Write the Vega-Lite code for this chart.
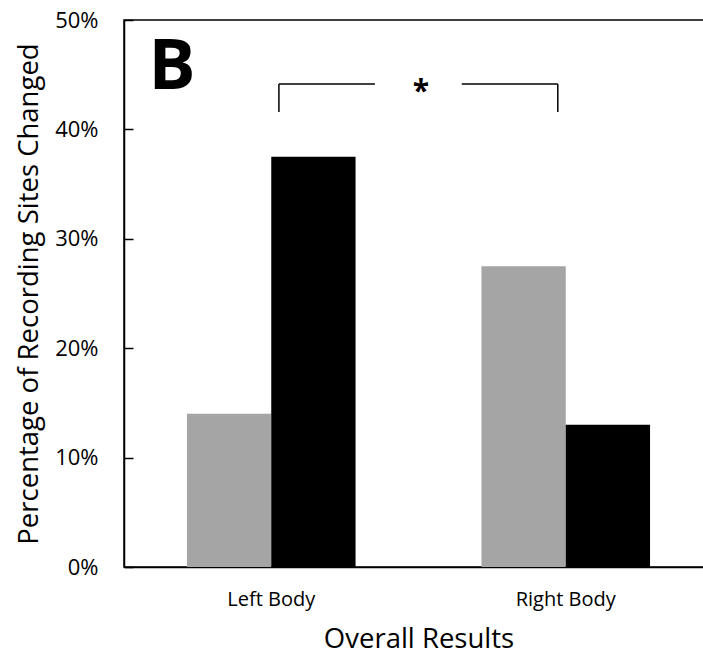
{
  "$schema": "https://vega.github.io/schema/vega-lite/v6.json",
  "width": 589,
  "height": 547,
  "autosize": {"type": "none"},
  "padding": {"left": 124, "top": 20, "right": 0, "bottom": 91},
  "background": "white",
  "config": {
    "view": {"stroke": "black", "strokeWidth": 1.5},
    "font": "Open Sans",
    "axis": {"domainColor": "black", "domainWidth": 1.5, "tickColor": "black", "tickWidth": 1.5, "labelColor": "black", "titleColor": "black", "grid": false, "titleFontWeight": "normal", "labelFont": "Open Sans", "titleFont": "Open Sans"}
  },
  "layer": [
    {
      "data": {"values": [
        {"group": "Left Body", "cond": "A", "value": 0.14},
        {"group": "Left Body", "cond": "B", "value": 0.375},
        {"group": "Right Body", "cond": "A", "value": 0.275},
        {"group": "Right Body", "cond": "B", "value": 0.13}
      ]},
      "mark": {"type": "bar", "stroke": null},
      "encoding": {
        "x": {"field": "group", "type": "nominal", "sort": ["Left Body", "Right Body"],
          "scale": {"paddingInner": 0.4275, "paddingOuter": 0.21375},
          "axis": {"title": "Overall Results", "labelAngle": 0, "ticks": false, "labelFontSize": 20, "labelPadding": 22, "titleFontSize": 27.5, "titlePadding": 16}},
        "xOffset": {"field": "cond", "type": "nominal", "scale": {"paddingInner": 0, "paddingOuter": 0}},
        "y": {"field": "value", "type": "quantitative",
          "scale": {"domain": [0, 0.5], "nice": false},
          "axis": {"title": "Percentage of Recording Sites Changed", "format": ".0%", "values": [0, 0.1, 0.2, 0.3, 0.4, 0.5], "tickSize": -9, "labelPadding": 35, "labelFontSize": 22, "titleFontSize": 27.5, "titleX": -81, "titleBaseline": "bottom"}},
        "color": {"field": "cond", "type": "nominal", "scale": {"domain": ["A", "B"], "range": ["#a5a5a5", "#000000"]}, "legend": null}
      }
    },
    {
      "data": {"values": [
        {"x": 0.526, "x2": 0.526, "y": 0.4159, "y2": 0.4415},
        {"x": 0.526, "x2": 0.852, "y": 0.4415, "y2": 0.4415},
        {"x": 1.147, "x2": 1.473, "y": 0.4415, "y2": 0.4415},
        {"x": 1.473, "x2": 1.473, "y": 0.4159, "y2": 0.4415}
      ]},
      "mark": {"type": "rule", "color": "black", "strokeWidth": 1.5},
      "encoding": {
        "x": {"field": "x", "type": "quantitative", "scale": {"domain": [0, 2], "nice": false}, "axis": null},
        "x2": {"field": "x2"},
        "y": {"field": "y", "type": "quantitative"},
        "y2": {"field": "y2"}
      }
    },
    {
      "data": {"values": [{"label": "*", "x": 1.008, "y": 0.4415}]},
      "mark": {"type": "text", "fontSize": 30, "fontWeight": "bold", "color": "black", "baseline": "middle", "dy": 8},
      "encoding": {
        "x": {"field": "x", "type": "quantitative", "scale": {"domain": [0, 2], "nice": false}, "axis": null},
        "y": {"field": "y", "type": "quantitative"},
        "text": {"field": "label"}
      }
    },
    {
      "data": {"values": [{"label": "B", "x": 0.163, "y": 0.458}]},
      "mark": {"type": "text", "fontSize": 70, "fontWeight": "bold", "color": "black", "baseline": "middle", "dy": 2},
      "encoding": {
        "x": {"field": "x", "type": "quantitative", "scale": {"domain": [0, 2], "nice": false}, "axis": null},
        "y": {"field": "y", "type": "quantitative"},
        "text": {"field": "label"}
      }
    }
  ],
  "resolve": {"scale": {"x": "independent"}, "axis": {"x": "independent"}}
}
